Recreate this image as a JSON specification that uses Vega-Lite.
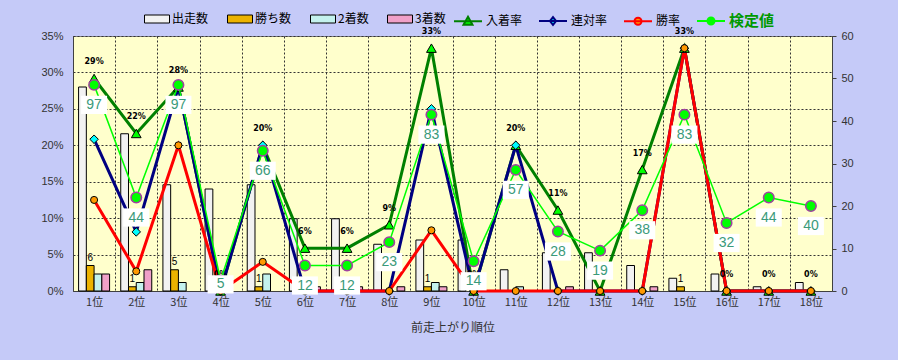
{
  "$schema": "https://vega.github.io/schema/vega-lite/v6.json",
  "width": 759,
  "height": 255,
  "autosize": {"type": "none"},
  "padding": {"left": 73, "top": 36, "right": 66, "bottom": 69},
  "background": "#C5CAF8",
  "config": {
    "view": {"fill": "#FFFFCC", "stroke": "#808080", "strokeWidth": 1},
    "font": "Liberation Sans, Noto Sans CJK JP",
    "axis": {
      "labelFont": "Liberation Sans, Noto Sans CJK JP",
      "labelColor": "#333333",
      "labelFontSize": 11,
      "titleFont": "Noto Sans CJK JP",
      "titleFontWeight": "normal",
      "titleColor": "#333333",
      "titleFontSize": 12,
      "domainColor": "#404040",
      "zindex": 0
    },
    "legend": {
      "labelFont": "Noto Sans CJK JP",
      "labelFontSize": 12,
      "labelColor": "#000000",
      "title": null
    }
  },
  "datasets": {
    "counts": [
      {"pos": "1位", "type": "出走数", "n": 48}, {"pos": "1位", "type": "勝ち数", "n": 6}, {"pos": "1位", "type": "2着数", "n": 4}, {"pos": "1位", "type": "3着数", "n": 4},
      {"pos": "2位", "type": "出走数", "n": 37}, {"pos": "2位", "type": "勝ち数", "n": 1}, {"pos": "2位", "type": "2着数", "n": 2}, {"pos": "2位", "type": "3着数", "n": 5},
      {"pos": "3位", "type": "出走数", "n": 25}, {"pos": "3位", "type": "勝ち数", "n": 5}, {"pos": "3位", "type": "2着数", "n": 2}, {"pos": "3位", "type": "3着数", "n": 0},
      {"pos": "4位", "type": "出走数", "n": 24}, {"pos": "4位", "type": "勝ち数", "n": 0}, {"pos": "4位", "type": "2着数", "n": 0}, {"pos": "4位", "type": "3着数", "n": 0},
      {"pos": "5位", "type": "出走数", "n": 25}, {"pos": "5位", "type": "勝ち数", "n": 1}, {"pos": "5位", "type": "2着数", "n": 4}, {"pos": "5位", "type": "3着数", "n": 0},
      {"pos": "6位", "type": "出走数", "n": 17}, {"pos": "6位", "type": "勝ち数", "n": 0}, {"pos": "6位", "type": "2着数", "n": 0}, {"pos": "6位", "type": "3着数", "n": 1},
      {"pos": "7位", "type": "出走数", "n": 17}, {"pos": "7位", "type": "勝ち数", "n": 0}, {"pos": "7位", "type": "2着数", "n": 0}, {"pos": "7位", "type": "3着数", "n": 1},
      {"pos": "8位", "type": "出走数", "n": 11}, {"pos": "8位", "type": "勝ち数", "n": 0}, {"pos": "8位", "type": "2着数", "n": 0}, {"pos": "8位", "type": "3着数", "n": 1},
      {"pos": "9位", "type": "出走数", "n": 12}, {"pos": "9位", "type": "勝ち数", "n": 1}, {"pos": "9位", "type": "2着数", "n": 2}, {"pos": "9位", "type": "3着数", "n": 1},
      {"pos": "10位", "type": "出走数", "n": 12}, {"pos": "10位", "type": "勝ち数", "n": 0}, {"pos": "10位", "type": "2着数", "n": 0}, {"pos": "10位", "type": "3着数", "n": 0},
      {"pos": "11位", "type": "出走数", "n": 5}, {"pos": "11位", "type": "勝ち数", "n": 0}, {"pos": "11位", "type": "2着数", "n": 1}, {"pos": "11位", "type": "3着数", "n": 0},
      {"pos": "12位", "type": "出走数", "n": 9}, {"pos": "12位", "type": "勝ち数", "n": 0}, {"pos": "12位", "type": "2着数", "n": 0}, {"pos": "12位", "type": "3着数", "n": 1},
      {"pos": "13位", "type": "出走数", "n": 9}, {"pos": "13位", "type": "勝ち数", "n": 0}, {"pos": "13位", "type": "2着数", "n": 0}, {"pos": "13位", "type": "3着数", "n": 0},
      {"pos": "14位", "type": "出走数", "n": 6}, {"pos": "14位", "type": "勝ち数", "n": 0}, {"pos": "14位", "type": "2着数", "n": 0}, {"pos": "14位", "type": "3着数", "n": 1},
      {"pos": "15位", "type": "出走数", "n": 3}, {"pos": "15位", "type": "勝ち数", "n": 1}, {"pos": "15位", "type": "2着数", "n": 0}, {"pos": "15位", "type": "3着数", "n": 0},
      {"pos": "16位", "type": "出走数", "n": 4}, {"pos": "16位", "type": "勝ち数", "n": 0}, {"pos": "16位", "type": "2着数", "n": 0}, {"pos": "16位", "type": "3着数", "n": 0},
      {"pos": "17位", "type": "出走数", "n": 1}, {"pos": "17位", "type": "勝ち数", "n": 0}, {"pos": "17位", "type": "2着数", "n": 0}, {"pos": "17位", "type": "3着数", "n": 0},
      {"pos": "18位", "type": "出走数", "n": 2}, {"pos": "18位", "type": "勝ち数", "n": 0}, {"pos": "18位", "type": "2着数", "n": 0}, {"pos": "18位", "type": "3着数", "n": 0}
    ],
    "rates": [
      {"pos": "1位", "series": "入着率", "value": 0.2917}, {"pos": "2位", "series": "入着率", "value": 0.2162}, {"pos": "3位", "series": "入着率", "value": 0.28},
      {"pos": "4位", "series": "入着率", "value": 0}, {"pos": "5位", "series": "入着率", "value": 0.2}, {"pos": "6位", "series": "入着率", "value": 0.0588},
      {"pos": "7位", "series": "入着率", "value": 0.0588}, {"pos": "8位", "series": "入着率", "value": 0.0909}, {"pos": "9位", "series": "入着率", "value": 0.3333},
      {"pos": "10位", "series": "入着率", "value": 0}, {"pos": "11位", "series": "入着率", "value": 0.2}, {"pos": "12位", "series": "入着率", "value": 0.1111},
      {"pos": "13位", "series": "入着率", "value": 0}, {"pos": "14位", "series": "入着率", "value": 0.1667}, {"pos": "15位", "series": "入着率", "value": 0.3333},
      {"pos": "16位", "series": "入着率", "value": 0}, {"pos": "17位", "series": "入着率", "value": 0}, {"pos": "18位", "series": "入着率", "value": 0},
      {"pos": "1位", "series": "連対率", "value": 0.2083}, {"pos": "2位", "series": "連対率", "value": 0.0811}, {"pos": "3位", "series": "連対率", "value": 0.28},
      {"pos": "4位", "series": "連対率", "value": 0}, {"pos": "5位", "series": "連対率", "value": 0.2}, {"pos": "6位", "series": "連対率", "value": 0},
      {"pos": "7位", "series": "連対率", "value": 0}, {"pos": "8位", "series": "連対率", "value": 0}, {"pos": "9位", "series": "連対率", "value": 0.25},
      {"pos": "10位", "series": "連対率", "value": 0}, {"pos": "11位", "series": "連対率", "value": 0.2}, {"pos": "12位", "series": "連対率", "value": 0},
      {"pos": "13位", "series": "連対率", "value": 0}, {"pos": "14位", "series": "連対率", "value": 0}, {"pos": "15位", "series": "連対率", "value": 0.3333},
      {"pos": "16位", "series": "連対率", "value": 0}, {"pos": "17位", "series": "連対率", "value": 0}, {"pos": "18位", "series": "連対率", "value": 0},
      {"pos": "1位", "series": "勝率", "value": 0.125}, {"pos": "2位", "series": "勝率", "value": 0.027}, {"pos": "3位", "series": "勝率", "value": 0.2},
      {"pos": "4位", "series": "勝率", "value": 0}, {"pos": "5位", "series": "勝率", "value": 0.04}, {"pos": "6位", "series": "勝率", "value": 0},
      {"pos": "7位", "series": "勝率", "value": 0}, {"pos": "8位", "series": "勝率", "value": 0}, {"pos": "9位", "series": "勝率", "value": 0.0833},
      {"pos": "10位", "series": "勝率", "value": 0}, {"pos": "11位", "series": "勝率", "value": 0}, {"pos": "12位", "series": "勝率", "value": 0},
      {"pos": "13位", "series": "勝率", "value": 0}, {"pos": "14位", "series": "勝率", "value": 0}, {"pos": "15位", "series": "勝率", "value": 0.3333},
      {"pos": "16位", "series": "勝率", "value": 0}, {"pos": "17位", "series": "勝率", "value": 0}, {"pos": "18位", "series": "勝率", "value": 0}
    ],
    "kentei": [
      {"pos": "1位", "value": 97}, {"pos": "2位", "value": 44}, {"pos": "3位", "value": 97}, {"pos": "4位", "value": 5},
      {"pos": "5位", "value": 66}, {"pos": "6位", "value": 12}, {"pos": "7位", "value": 12}, {"pos": "8位", "value": 23},
      {"pos": "9位", "value": 83}, {"pos": "10位", "value": 14}, {"pos": "11位", "value": 57}, {"pos": "12位", "value": 28},
      {"pos": "13位", "value": 19}, {"pos": "14位", "value": 38}, {"pos": "15位", "value": 83}, {"pos": "16位", "value": 32},
      {"pos": "17位", "value": 44}, {"pos": "18位", "value": 40}
    ],
    "note": [{"text": "©Caniの競馬データ研究室"}]
  },
  "resolve": {"scale": {"y": "independent"}},
  "layer": [
    {
      "data": {"name": "counts"},
      "encoding": {
        "x": {
          "field": "pos", "type": "nominal",
          "scale": {"domain": ["1位","2位","3位","4位","5位","6位","7位","8位","9位","10位","11位","12位","13位","14位","15位","16位","17位","18位"], "paddingInner": 0, "paddingOuter": 0},
          "axis": {"title": "前走上がり順位", "labelAngle": 0, "ticks": false, "grid": true, "tickBand": "extent", "gridDash": [2, 2], "gridColor": "#333333", "gridOpacity": 1, "labelPadding": 5, "titlePadding": 15, "labelFont": "Noto Sans CJK JP", "zindex": 0}
        },
        "xOffset": {"field": "type", "type": "nominal", "scale": {"domain": ["出走数", "勝ち数", "2着数", "3着数"], "paddingOuter": 0.72, "paddingInner": 0}},
        "y": {
          "field": "n", "type": "quantitative",
          "scale": {"domain": [0, 60], "nice": false},
          "axis": {"orient": "right", "values": [0, 10, 20, 30, 40, 50, 60], "grid": false, "title": null, "tickSize": 4, "tickColor": "#404040", "labelPadding": 5, "zindex": 0}
        }
      },
      "layer": [
        {
          "transform": [{"filter": "datum.n > 0"}],
          "mark": {"type": "bar", "stroke": "#000000", "strokeWidth": 1},
          "encoding": {
            "color": {
              "field": "type", "type": "nominal",
              "scale": {"domain": ["出走数", "勝ち数", "2着数", "3着数"], "range": ["#F2F2F2", "#ECB300", "#C4F2EE", "#F0A0C8"]},
              "legend": {
                "orient": "none", "legendX": 71, "legendY": -30, "direction": "horizontal",
                "symbolType": "M-1,-0.32H1V0.32H-1Z", "symbolSize": 625,
                "symbolStrokeColor": "#000000", "symbolStrokeWidth": 1,
                "columnPadding": 16, "labelOffset": 2
              }
            }
          }
        },
        {
          "transform": [{"filter": "datum.type === '勝ち数' && datum.n > 0"}],
          "mark": {"type": "text", "dy": -8, "fontSize": 10, "color": "#000000", "font": "Liberation Sans"},
          "encoding": {"text": {"field": "n", "type": "quantitative"}}
        }
      ]
    },
    {
      "data": {"name": "rates"},
      "encoding": {
        "x": {"field": "pos", "type": "nominal"},
        "y": {
          "field": "value", "type": "quantitative",
          "scale": {"domain": [0, 0.35], "nice": false},
          "axis": {"orient": "left", "format": ".0%", "values": [0, 0.05, 0.1, 0.15, 0.2, 0.25, 0.3, 0.35], "grid": true, "gridDash": [2, 2], "gridColor": "#333333", "gridOpacity": 1, "ticks": false, "labelPadding": 10, "title": null, "zindex": 0}
        }
      },
      "layer": [
        {
          "transform": [{"filter": "datum.series === '入着率'"}],
          "mark": {"type": "line", "strokeWidth": 3},
          "encoding": {
            "stroke": {
              "field": "series", "type": "nominal",
              "scale": {"domain": ["入着率", "連対率", "勝率", "検定値"], "range": ["#008000", "#000080", "#FF0000", "#00FF00"]},
              "legend": {
                "orient": "none", "legendX": 380, "legendY": -30, "direction": "horizontal",
                "symbolType": "M-1,0H1", "symbolSize": 784, "symbolStrokeWidth": 2,
                "columnPadding": 12, "labelOffset": 3,
                "encode": {
                  "symbols": {"update": {
                    "shape": {"signal": "datum.value === '入着率' ? 'M-1,0H1M0,-0.32L0.32,0.25H-0.32Z' : datum.value === '連対率' ? 'M-1,0H1M0,-0.28L0.22,0L0,0.28L-0.22,0Z' : 'M-1,0H1M-0.25,0A0.25,0.25 0 1,1 0.25,0A0.25,0.25 0 1,1 -0.25,0Z'"},
                    "fill": {"signal": "datum.value === '入着率' ? '#00FF00' : datum.value === '連対率' ? '#00FFFF' : datum.value === '勝率' ? '#FF9900' : '#00FF00'"}
                  }},
                  "labels": {"update": {
                    "fill": {"signal": "datum.value === '検定値' ? '#009900' : '#000000'"},
                    "fontSize": {"signal": "datum.value === '検定値' ? 15 : 12"},
                    "fontWeight": {"signal": "datum.value === '検定値' ? 'bold' : 'normal'"}
                  }}
                }
              }
            }
          }
        },
        {
          "transform": [{"filter": "datum.series === '連対率'"}],
          "mark": {"type": "line", "strokeWidth": 3},
          "encoding": {"stroke": {"field": "series", "type": "nominal"}}
        },
        {
          "transform": [{"filter": "datum.series === '勝率'"}],
          "mark": {"type": "line", "strokeWidth": 3},
          "encoding": {"stroke": {"field": "series", "type": "nominal"}}
        },
        {
          "mark": {"type": "point", "filled": true, "stroke": "#000000", "strokeWidth": 1, "opacity": 1},
          "encoding": {
            "shape": {"field": "series", "type": "nominal", "scale": {"domain": ["入着率", "連対率", "勝率"], "range": ["triangle-up", "diamond", "circle"]}, "legend": null},
            "fill": {"field": "series", "type": "nominal", "scale": {"domain": ["入着率", "連対率", "勝率"], "range": ["#00FF00", "#00FFFF", "#FF9900"]}, "legend": null},
            "size": {"field": "series", "type": "nominal", "scale": {"domain": ["入着率", "連対率", "勝率"], "range": [95, 50, 60]}, "legend": null}
          }
        },
        {
          "transform": [{"filter": "datum.series === '入着率'"}],
          "mark": {"type": "text", "dy": -16, "fontSize": 8, "fontWeight": "bold", "font": "DejaVu Sans", "color": "#000000"},
          "encoding": {"text": {"field": "value", "type": "quantitative", "format": ".0%"}}
        },
        {
          "data": {"name": "note"},
          "mark": {"type": "text", "fontSize": 18, "color": "#9A9AF2", "font": "Noto Sans CJK JP", "baseline": "middle", "align": "center"},
          "encoding": {
            "x": {"datum": "10位"},
            "y": {"datum": 0.32},
            "text": {"field": "text", "type": "nominal"}
          }
        }
      ]
    },
    {
      "data": {"name": "kentei"},
      "encoding": {
        "x": {"field": "pos", "type": "nominal"},
        "y": {"field": "value", "type": "quantitative", "scale": {"domain": [0, 120], "nice": false}, "axis": null}
      },
      "layer": [
        {
          "mark": {"type": "line", "strokeWidth": 1.5},
          "encoding": {"stroke": {"datum": "検定値"}}
        },
        {
          "mark": {"type": "point", "filled": true, "fill": "#00FF00", "stroke": "#A040A0", "strokeWidth": 1.5, "size": 110, "opacity": 1}
        },
        {
          "mark": {"type": "point", "shape": "M-1,-0.7H1V0.7H-1Z", "size": 676, "filled": true, "fill": "#FFFFFF", "strokeWidth": 0, "opacity": 1, "yOffset": {"expr": "datum.value < 10 ? 4 : 20"}}
        },
        {
          "mark": {"type": "text", "fontSize": 14, "color": "#3A9A7A", "font": "Liberation Sans", "baseline": "middle", "align": "center", "yOffset": {"expr": "datum.value < 10 ? 4 : 20"}},
          "encoding": {"text": {"field": "value", "type": "quantitative"}}
        }
      ]
    }
  ]
}
